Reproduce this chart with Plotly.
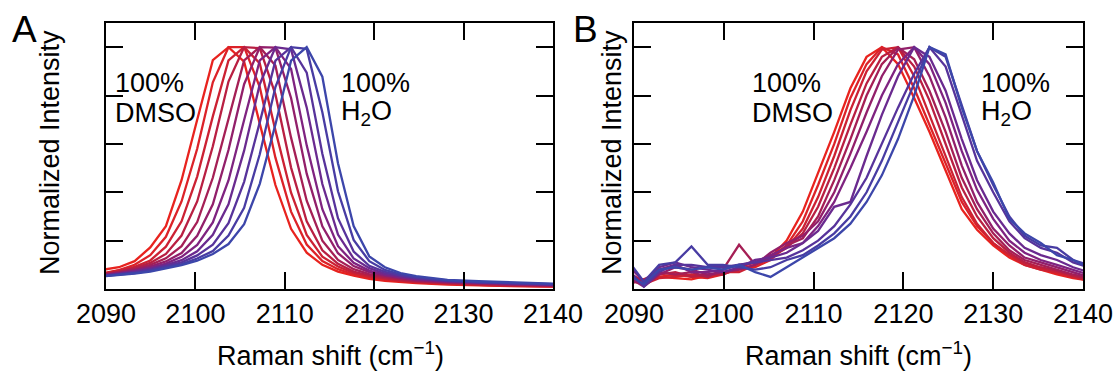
import plotly.graph_objects as go

# ---------------- data ----------------
x_tick_vals = [2090, 2100, 2110, 2120, 2130, 2140]
x_tick_labels = ["2090", "2100", "2110", "2120", "2130", "2140"]
y_tick_vals = [0.2, 0.4, 0.6, 0.8, 1.0]

# Panel A: Raman shift (cm-1) sample positions
shift_A = [2089.7, 2091.45, 2093.2, 2094.95, 2096.7, 2098.45, 2100.2, 2101.95,
           2103.7, 2105.45, 2107.2, 2108.95, 2110.7, 2112.45, 2114.2, 2115.95,
           2117.7, 2119.45, 2121.2, 2122.95, 2124.7, 2128.2, 2131.7, 2135.2, 2140.45]

# Panel A normalized intensities, 100% DMSO (first) -> 100% H2O (last)
A01 = [0.080, 0.090, 0.115, 0.172, 0.260, 0.450, 0.700, 0.946, 1.000, 0.940, 0.684, 0.430, 0.249, 0.150, 0.100, 0.072, 0.055, 0.042, 0.034, 0.028, 0.024, 0.018, 0.014, 0.012, 0.010]
A02 = [0.065, 0.078, 0.100, 0.140, 0.216, 0.362, 0.580, 0.855, 1.000, 1.000, 0.835, 0.543, 0.320, 0.184, 0.116, 0.082, 0.060, 0.047, 0.038, 0.031, 0.027, 0.021, 0.016, 0.013, 0.011]
A03 = [0.063, 0.076, 0.092, 0.118, 0.175, 0.280, 0.465, 0.714, 0.945, 1.000, 0.933, 0.656, 0.398, 0.224, 0.134, 0.093, 0.066, 0.051, 0.041, 0.034, 0.029, 0.022, 0.017, 0.014, 0.011]
A04 = [0.061, 0.071, 0.087, 0.108, 0.145, 0.221, 0.362, 0.590, 0.858, 1.000, 0.996, 0.805, 0.502, 0.280, 0.160, 0.104, 0.072, 0.055, 0.045, 0.037, 0.031, 0.024, 0.019, 0.016, 0.013]
A05 = [0.059, 0.069, 0.082, 0.100, 0.127, 0.177, 0.277, 0.460, 0.706, 0.945, 1.000, 0.924, 0.626, 0.365, 0.200, 0.120, 0.082, 0.062, 0.050, 0.041, 0.034, 0.026, 0.021, 0.018, 0.014]
A06 = [0.058, 0.066, 0.078, 0.093, 0.114, 0.149, 0.220, 0.350, 0.575, 0.847, 1.000, 0.998, 0.790, 0.477, 0.259, 0.148, 0.095, 0.070, 0.055, 0.045, 0.037, 0.029, 0.023, 0.019, 0.015]
A07 = [0.056, 0.065, 0.075, 0.087, 0.105, 0.133, 0.182, 0.275, 0.449, 0.699, 0.945, 1.000, 0.910, 0.594, 0.330, 0.177, 0.108, 0.076, 0.058, 0.048, 0.040, 0.031, 0.025, 0.021, 0.017]
A08 = [0.055, 0.061, 0.072, 0.083, 0.099, 0.119, 0.156, 0.224, 0.350, 0.572, 0.847, 1.000, 0.991, 0.751, 0.434, 0.225, 0.126, 0.086, 0.064, 0.052, 0.043, 0.033, 0.027, 0.023, 0.018]
A09 = [0.054, 0.060, 0.069, 0.079, 0.093, 0.110, 0.139, 0.183, 0.272, 0.443, 0.689, 0.944, 1.000, 0.895, 0.559, 0.293, 0.155, 0.096, 0.071, 0.055, 0.046, 0.034, 0.028, 0.024, 0.019]
A10 = [0.053, 0.058, 0.066, 0.076, 0.089, 0.103, 0.126, 0.157, 0.221, 0.336, 0.557, 0.835, 1.000, 0.993, 0.731, 0.404, 0.203, 0.115, 0.079, 0.060, 0.049, 0.036, 0.029, 0.025, 0.020]
A11 = [0.052, 0.057, 0.064, 0.072, 0.085, 0.099, 0.117, 0.145, 0.186, 0.268, 0.435, 0.680, 0.944, 1.000, 0.878, 0.520, 0.260, 0.135, 0.090, 0.066, 0.053, 0.038, 0.032, 0.027, 0.022]

# Panel B: Raman shift (cm-1) sample positions
shift_B = [2089.3, 2091.1, 2092.8, 2094.6, 2096.4, 2098.2, 2099.9, 2101.7, 2103.5, 2105.2,
           2107.0, 2108.8, 2110.5, 2112.3, 2114.1, 2115.9, 2117.6, 2119.4, 2121.2, 2122.9,
           2124.7, 2126.5, 2128.2, 2130.0, 2131.8, 2133.5, 2135.3, 2137.1, 2138.9, 2140.6]

# Panel B normalized intensities, 100% DMSO (first) -> 100% H2O (last)
B01 = [0.05, 0.04, 0.05, 0.045, 0.04, 0.055, 0.065, 0.08, 0.10, 0.13, 0.20, 0.32, 0.48, 0.65, 0.83, 0.96, 1.00, 0.93, 0.79, 0.65, 0.49, 0.33, 0.245, 0.18, 0.13, 0.10, 0.08, 0.06, 0.045, 0.035]
B02 = [0.03, 0.025, 0.05, 0.06, 0.05, 0.045, 0.06, 0.085, 0.09, 0.12, 0.18, 0.28, 0.43, 0.60, 0.79, 0.93, 1.00, 0.97, 0.83, 0.68, 0.52, 0.36, 0.26, 0.19, 0.14, 0.11, 0.085, 0.065, 0.05, 0.04]
B03 = [0.04, 0.02, 0.045, 0.05, 0.06, 0.05, 0.07, 0.07, 0.10, 0.13, 0.17, 0.25, 0.38, 0.55, 0.74, 0.90, 0.99, 1.00, 0.88, 0.72, 0.55, 0.38, 0.27, 0.19, 0.14, 0.10, 0.08, 0.07, 0.05, 0.035]
B04 = [0.07, 0.03, 0.06, 0.07, 0.05, 0.06, 0.06, 0.09, 0.11, 0.14, 0.17, 0.23, 0.34, 0.50, 0.68, 0.85, 0.96, 1.00, 0.92, 0.78, 0.60, 0.42, 0.30, 0.21, 0.15, 0.11, 0.09, 0.075, 0.055, 0.04]
B05 = [0.02, 0.04, 0.07, 0.06, 0.07, 0.05, 0.08, 0.183, 0.10, 0.13, 0.18, 0.21, 0.30, 0.45, 0.62, 0.80, 0.93, 1.00, 0.95, 0.82, 0.65, 0.46, 0.33, 0.23, 0.16, 0.12, 0.10, 0.08, 0.06, 0.045]
B06 = [0.05, 0.01, 0.06, 0.09, 0.08, 0.06, 0.07, 0.08, 0.10, 0.15, 0.19, 0.22, 0.28, 0.40, 0.56, 0.73, 0.88, 0.99, 1.00, 0.88, 0.71, 0.51, 0.36, 0.25, 0.18, 0.13, 0.11, 0.09, 0.07, 0.05]
B07 = [0.10, 0.03, 0.08, 0.10, 0.07, 0.07, 0.08, 0.10, 0.11, 0.14, 0.17, 0.19, 0.26, 0.36, 0.50, 0.65, 0.80, 0.93, 1.00, 0.93, 0.77, 0.57, 0.41, 0.29, 0.20, 0.15, 0.12, 0.10, 0.08, 0.06]
B08 = [0.06, 0.02, 0.09, 0.11, 0.09, 0.08, 0.07, 0.09, 0.12, 0.13, 0.15, 0.19, 0.24, 0.34, 0.36, 0.55, 0.72, 0.88, 1.00, 0.96, 0.82, 0.62, 0.45, 0.32, 0.23, 0.17, 0.14, 0.12, 0.09, 0.07]
B09 = [0.08, 0.01, 0.07, 0.10, 0.10, 0.09, 0.09, 0.10, 0.11, 0.12, 0.13, 0.16, 0.20, 0.26, 0.35, 0.46, 0.60, 0.75, 0.89, 1.00, 0.92, 0.72, 0.53, 0.40, 0.28, 0.21, 0.17, 0.15, 0.11, 0.09]
B10 = [0.12, 0.03, 0.10, 0.11, 0.176, 0.10, 0.10, 0.09, 0.08, 0.09, 0.12, 0.14, 0.18, 0.23, 0.30, 0.40, 0.53, 0.69, 0.85, 1.00, 0.96, 0.76, 0.57, 0.43, 0.30, 0.22, 0.18, 0.17, 0.12, 0.10]
B11 = [0.06, 0.02, 0.08, 0.09, 0.08, 0.09, 0.08, 0.10, 0.07, 0.05, 0.09, 0.13, 0.17, 0.21, 0.27, 0.36, 0.47, 0.62, 0.80, 1.00, 0.97, 0.75, 0.57, 0.44, 0.29, 0.23, 0.19, 0.14, 0.12, 0.09]

curves_A = [A01, A02, A03, A04, A05, A06, A07, A08, A09, A10, A11]
curves_B = [B01, B02, B03, B04, B05, B06, B07, B08, B09, B10, B11]

# ---------------- style ----------------
colors = ["#e8231e", "#dc2228", "#cc2133", "#b91f42", "#a51f55", "#921f6a",
          "#7f2380", "#6a2a8f", "#57339b", "#483ca3", "#3c46aa"]
FONT = "Liberation Sans, Arial, Helvetica, sans-serif"
W, H = 1116, 375

fig = go.Figure()
for i, ys in enumerate(curves_A):
    fig.add_trace(go.Scatter(x=shift_A, y=ys, mode="lines",
                             line=dict(color=colors[i], width=2.3),
                             xaxis="x", yaxis="y", showlegend=False, hoverinfo="skip"))
for i, ys in enumerate(curves_B):
    fig.add_trace(go.Scatter(x=shift_B, y=ys, mode="lines",
                             line=dict(color=colors[i], width=2.3),
                             xaxis="x2", yaxis="y2", showlegend=False, hoverinfo="skip"))

axis_common = dict(showline=True, linecolor="black", linewidth=2, mirror="ticks",
                   ticks="inside", ticklen=17, tickwidth=2, tickcolor="black",
                   showgrid=False, zeroline=False, automargin=False)

ydom = [1 - 289 / H, 1 - 23 / H]
fig.update_layout(
    width=W, height=H, margin=dict(l=0, r=0, t=0, b=0),
    paper_bgcolor="white", plot_bgcolor="white",
    font=dict(family=FONT, size=26, color="black"),
    xaxis=dict(domain=[106 / W, 553 / W], range=[2090, 2140], tickvals=x_tick_vals,
               ticktext=x_tick_labels, tickfont=dict(family=FONT, size=27, color="black"),
               anchor="y", **axis_common),
    yaxis=dict(domain=ydom, range=[0, 1.1], tickvals=y_tick_vals,
               showticklabels=False, anchor="x", **axis_common),
    xaxis2=dict(domain=[634 / W, 1083 / W], range=[2090, 2140], tickvals=x_tick_vals,
                ticktext=x_tick_labels, tickfont=dict(family=FONT, size=27, color="black"),
                anchor="y2", **axis_common),
    yaxis2=dict(domain=ydom, range=[0, 1.1], tickvals=y_tick_vals,
                showticklabels=False, anchor="x2", **axis_common),
)

def ann(text, px, py, size=26, xanchor="center", yanchor="middle", angle=0):
    fig.add_annotation(text=text, x=px / W, y=1 - py / H, xref="paper", yref="paper",
                       showarrow=False, xanchor=xanchor, yanchor=yanchor,
                       textangle=angle, align="left",
                       font=dict(family=FONT, size=size, color="black"))

ann("A", 24, 29, size=37)
ann("B", 585, 29, size=37)
ann("Normalized Intensity", 50, 153, size=27, angle=-90)
ann("Normalized Intensity", 612, 153, size=27, angle=-90)
ann("Raman shift (cm<sup>−1</sup>)", 330, 354, size=27)
ann("Raman shift (cm<sup>−1</sup>)", 858, 354, size=27)
for left in (113, 750):
    ann("100%", left, 83, size=27, xanchor="left")
    ann("DMSO", left, 113, size=27, xanchor="left")
for left in (339, 979):
    ann("100%", left, 83, size=27, xanchor="left")
    ann("H<sub>2</sub>O", left, 113, size=27, xanchor="left")

fig.write_html("out.html")
